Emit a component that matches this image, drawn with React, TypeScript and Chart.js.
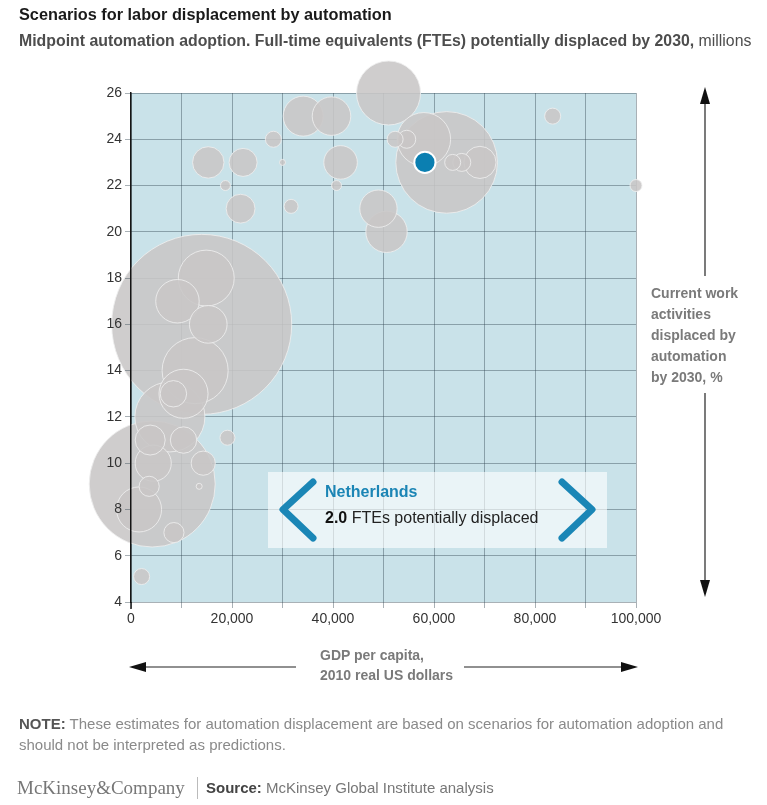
import React, { useEffect, useRef } from 'react';
import { Chart, registerables } from 'chart.js';

Chart.register(...registerables);

// GDP per capita, 2010 real US dollars
const gdpPerCapita = [
  14000, 4200, 62500, 7700, 12700, 51000, 14900, 10400, 1600, 9200,
  50600, 34100, 39700, 15300, 49000, 4400, 41500, 69100, 15300, 3800,
  21700, 22200, 10400, 8400, 14300, 58000, 52300, 54600, 63700, 65500,
  3600, 8500, 83500, 28200, 19100, 2100, 31700, 100000, 18700, 40700,
  30000, 13500,
];
// Current work activities displaced by automation by 2030, %
const displacedPct = [
  16, 9.1, 23, 12, 14, 26, 18, 13, 8, 17,
  20, 25, 25, 16, 21, 10, 23, 23, 23, 11,
  21, 23, 11, 13, 10, 24, 24, 24, 23, 23,
  9, 7, 25, 24, 11.1, 5.1, 21.1, 22, 22, 22,
  23, 9,
];
// FTEs potentially displaced by 2030, millions
const fteMillions = [
  144, 70.6, 45.9, 21.8, 19.4, 18.2, 13.9, 10.7, 9.0, 8.4,
  7.6, 7.1, 6.6, 6.3, 6.2, 5.8, 5.0, 4.6, 4.4, 4.0,
  3.7, 3.5, 3.1, 3.1, 2.6, 12.7, 1.14, 1.44, 1.14, 1.44,
  1.8, 1.8, 1.14, 1.14, 1.0, 1.14, 0.87, 0.64, 0.44, 0.44,
  0.16, 0.16,
];

const highlightName = 'Netherlands';
const highlightGdp = [58200];
const highlightPct = [23];
const highlightFte = [2.0];

const xTickValues = [0, 20000, 40000, 60000, 80000, 100000];
const yTickValues = [4, 6, 8, 10, 12, 14, 16, 18, 20, 22, 24, 26];

const SANS = '"Liberation Sans", Arial, Helvetica, sans-serif';
const RADIUS_K = 7.5;
const GRID = 'rgba(50,70,80,0.42)';

const W = 767;
const H = 805;
const AREA = { left: 131, right: 636, top: 93, bottom: 602 };

export default function App() {
  const canvasRef = useRef<HTMLCanvasElement | null>(null);

  useEffect(() => {
    const canvas = canvasRef.current;
    if (!canvas) return;

    const points = gdpPerCapita
      .map((x, i) => ({ x, y: displacedPct[i], r: RADIUS_K * Math.sqrt(fteMillions[i]) }))
      .sort((a, b) => b.r - a.r);
    const hi = highlightGdp.map((x, i) => ({
      x,
      y: highlightPct[i],
      r: RADIUS_K * Math.sqrt(highlightFte[i]),
    }));

    const bgPlugin = {
      id: 'plotBg',
      beforeDraw(chart: any) {
        const { ctx, chartArea } = chart;
        ctx.save();
        ctx.fillStyle = '#c9e2e9';
        ctx.fillRect(chartArea.left, chartArea.top, chartArea.right - chartArea.left, chartArea.bottom - chartArea.top);
        ctx.restore();
      },
    };

    const yW = 40;
    const xH = 30;

    const chart = new Chart(canvas, {
      type: 'bubble',
      data: {
        datasets: [
          {
            label: highlightName,
            data: hi,
            order: 0,
            backgroundColor: '#0b7fb1',
            borderColor: '#ffffff',
            borderWidth: 2,
            clip: false as any,
          },
          {
            label: 'Countries',
            data: points,
            order: 1,
            backgroundColor: 'rgba(200,198,198,0.88)',
            borderColor: 'rgba(238,238,238,0.85)',
            borderWidth: 1,
            clip: false as any,
          },
        ],
      },
      options: {
        responsive: false,
        devicePixelRatio: 1,
        animation: false,
        events: [],
        layout: {
          padding: {
            left: AREA.left - yW,
            right: W - AREA.right,
            top: AREA.top,
            bottom: H - AREA.bottom - xH,
          },
        },
        plugins: {
          legend: { display: false },
          tooltip: { enabled: false },
          title: { display: false },
        },
        scales: {
          x: {
            type: 'linear',
            min: 0,
            max: 100000,
            afterFit: (s: any) => { s.height = xH; },
            grid: { color: GRID, lineWidth: 1, tickLength: 6 },
            border: { display: false },
            ticks: {
              stepSize: 10000,
              autoSkip: false,
              maxRotation: 0,
              padding: 3,
              color: '#333',
              font: { family: SANS, size: 14 },
              callback: (v: any) => (xTickValues.includes(Number(v)) ? Number(v).toLocaleString('en-US') : ''),
            },
          },
          y: {
            type: 'linear',
            position: 'left',
            min: 4,
            max: 26,
            afterFit: (s: any) => { s.width = 0; },
            grid: { color: GRID, lineWidth: 1, drawTicks: false },
            border: { display: false },
            ticks: { display: false, stepSize: 2 },
          },
          y2: {
            type: 'linear',
            position: 'left',
            min: 4,
            max: 26,
            afterFit: (s: any) => { s.width = yW; },
            grid: { display: true, drawOnChartArea: false, drawTicks: true, tickLength: 6, color: GRID, z: 1 } as any,
            border: { display: true, color: '#151515', width: 1.5, z: 1 } as any,
            ticks: {
              z: 1,
              stepSize: 2,
              padding: 3,
              color: '#333',
              font: { family: SANS, size: 14 },
              callback: (v: any) => (yTickValues.includes(Number(v)) ? String(v) : ''),
            },
          },
        },
      },
      plugins: [bgPlugin],
    });

    return () => chart.destroy();
  }, []);

  const abs = (o: React.CSSProperties): React.CSSProperties => ({ position: 'absolute', whiteSpace: 'nowrap', ...o });

  return (
    <div style={{ position: 'absolute', left: 0, top: 0, width: W, height: H, background: '#fff', fontFamily: SANS, overflow: 'hidden' }}>
      <canvas ref={canvasRef} width={W} height={H} style={{ position: 'absolute', left: 0, top: 0, width: W, height: H }} />

      <div style={abs({ left: 19, top: 5, fontSize: 16.3, lineHeight: '19px', fontWeight: 700, color: '#1a1a1a' })}>
        Scenarios for labor displacement by automation
      </div>
      <div style={abs({ left: 19, top: 31, fontSize: 15.85, lineHeight: '19px', color: '#4d4d4d' })}>
        <b>Midpoint automation adoption. Full-time equivalents (FTEs) potentially displaced by 2030,</b> millions
      </div>

      {/* highlight box */}
      <div style={abs({ left: 268, top: 472, width: 339, height: 76, background: 'rgba(255,255,255,0.62)' })} />
      <div style={abs({ left: 325, top: 483, fontSize: 16, lineHeight: '18px', fontWeight: 700, color: '#1b85b5' })}>
        {highlightName}
      </div>
      <div style={abs({ left: 325, top: 509, fontSize: 16, lineHeight: '18px', color: '#222' })}>
        <b style={{ color: '#111' }}>{highlightFte[0].toFixed(1)}</b> FTEs potentially displaced
      </div>

      <svg width={W} height={H} style={{ position: 'absolute', left: 0, top: 0, pointerEvents: 'none' }}>
        <polyline points="313,482 283,509.5 313,538" fill="none" stroke="#1a86b6" strokeWidth={7} strokeLinecap="round" strokeLinejoin="round" />
        <polyline points="562,482 592,509.5 562,538" fill="none" stroke="#1a86b6" strokeWidth={7} strokeLinecap="round" strokeLinejoin="round" />
        {/* vertical arrow */}
        <line x1={705} y1={100} x2={705} y2={276} stroke="#222" strokeWidth={1.2} />
        <polygon points="705,87 700,104 710,104" fill="#111" />
        <line x1={705} y1={393} x2={705} y2={584} stroke="#222" strokeWidth={1.2} />
        <polygon points="705,597 700,580 710,580" fill="#111" />
        {/* horizontal arrow */}
        <line x1={145} y1={667} x2={296} y2={667} stroke="#222" strokeWidth={1.2} />
        <polygon points="129,667 146,662 146,672" fill="#111" />
        <line x1={464} y1={667} x2={621} y2={667} stroke="#222" strokeWidth={1.2} />
        <polygon points="638,667 621,662 621,672" fill="#111" />
        {/* axis line extension below the plot */}
        <line x1={131} y1={602} x2={131} y2={609} stroke="#151515" strokeWidth={1.5} />
      </svg>

      <div style={abs({ left: 651, top: 283, fontSize: 14, lineHeight: '21px', fontWeight: 700, color: '#7a7a7a' })}>
        Current work<br />activities<br />displaced by<br />automation<br />by 2030, %
      </div>

      <div style={abs({ left: 320, top: 645, fontSize: 14, lineHeight: '20px', fontWeight: 700, color: '#7a7a7a' })}>
        GDP per capita,<br />2010 real US dollars
      </div>

      <div style={abs({ left: 19, top: 713, fontSize: 15, lineHeight: '21px', color: '#8a8a8a' })}>
        <b style={{ color: '#555' }}>NOTE:</b> These estimates for automation displacement are based on scenarios for automation adoption and<br />
        should not be interpreted as predictions.
      </div>

      <div style={abs({ left: 17, top: 776, fontSize: 19, lineHeight: '24px', color: '#777', fontFamily: '"Liberation Serif", "Times New Roman", serif' })}>
        McKinsey&amp;Company
      </div>
      <div style={abs({ left: 197, top: 777, width: 1, height: 22, background: '#bbb' })} />
      <div style={abs({ left: 206, top: 778, fontSize: 15, lineHeight: '20px', color: '#777' })}>
        <b style={{ color: '#444' }}>Source:</b> McKinsey Global Institute analysis
      </div>
    </div>
  );
}
